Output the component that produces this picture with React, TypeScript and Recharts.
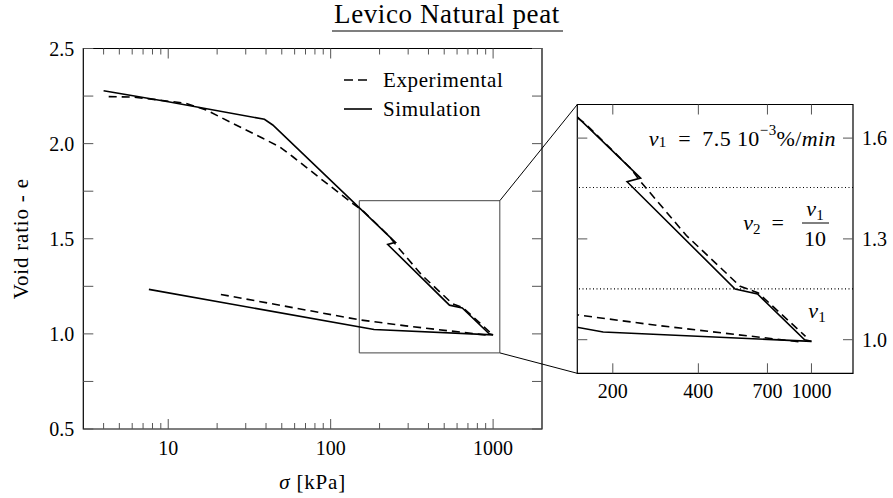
import React from 'react';
import { LineChart, Line, XAxis, YAxis, ReferenceArea, ReferenceLine, Legend } from 'recharts';

// ---------------- data ----------------
const expLoadSigma = [4.3, 6, 8.8, 12.8, 17.1, 24.9, 38.2, 48.3, 58.5, 91.6, 137, 160, 230, 252, 363, 561, 650, 953];
const expLoadE = [2.247, 2.245, 2.229, 2.212, 2.177, 2.107, 2.028, 1.984, 1.931, 1.8, 1.685, 1.643, 1.512, 1.468, 1.31, 1.159, 1.139, 1.01];

const simLoadSigma = [4, 10, 39.1, 44, 250.6, 224.5, 538.6, 646, 946, 1000];
const simLoadE = [2.278, 2.22, 2.128, 2.098, 1.481, 1.47, 1.151, 1.136, 1.0, 0.995];

const expUnloadSigma = [900, 290, 150, 20];
const expUnloadE = [0.994, 1.042, 1.074, 1.211];

const simUnloadSigma = [1000, 185, 7.6];
const simUnloadE = [0.995, 1.023, 1.234];

const mainXTicks = [4, 5, 6, 7, 8, 9, 10, 20, 30, 40, 50, 60, 70, 80, 90, 100, 200, 300, 400, 500, 600, 700, 800, 900, 1000];
const mainXLabels = [10, 100, 1000];
const mainYTicks = [0.5, 0.75, 1.0, 1.25, 1.5, 1.75, 2.0, 2.25, 2.5];
const mainYLabels = [0.5, 1.0, 1.5, 2.0, 2.5];
const mainXDomain = [3, 2000];
const mainYDomain = [0.5, 2.5];

const zoomXRange = [150, 1100];
const zoomYRange = [0.9, 1.7];

const insetXTicks = [200, 400, 700, 1000];
const insetYTicks = [1.0, 1.3, 1.6];
const insetXDomain = [150, 1400];
const insetYDomain = [0.9, 1.7];
const rateChangeLevels = [1.453, 1.151];

const pts = (xs: number[], ys: number[]) => xs.map((x, i) => ({ x, y: ys[i] }));

// ---------------- layout ----------------
const W = 893;
const H = 498;
const FONT = '"Liberation Serif", "Times New Roman", serif';
const MAIN = { left: 83.3, top: 48.5, right: 542, bottom: 429 };
const INSET = { left: 577.3, top: 104.5, right: 853, bottom: 373.3 };
const MAIN_W = MAIN.right - MAIN.left;
const MAIN_H = MAIN.bottom - MAIN.top;
const INSET_W = INSET.right - INSET.left;
const INSET_H = INSET.bottom - INSET.top;
const TICK_COLOR = '#555';
const DASH = '8 5';
const TICK_FS = 20;

const mx = (v: number) =>
  MAIN.left + ((Math.log10(v) - Math.log10(mainXDomain[0])) / (Math.log10(mainXDomain[1]) - Math.log10(mainXDomain[0]))) * MAIN_W;
const my = (v: number) => MAIN.top + ((mainYDomain[1] - v) / (mainYDomain[1] - mainYDomain[0])) * MAIN_H;

// ---------------- ticks ----------------
const MainXTick = (p: any) => {
  const { x, y, payload } = p;
  const v = payload.value;
  const major = mainXLabels.includes(v);
  const len = major ? 10 : 6;
  return (
    <g>
      <line x1={x} x2={x} y1={y} y2={y - len} stroke={TICK_COLOR} strokeWidth={1} />
      <line x1={x} x2={x} y1={y - MAIN_H} y2={y - MAIN_H + len} stroke={TICK_COLOR} strokeWidth={1} />
      {major && (
        <text x={x} y={y + 19} textAnchor="middle" dominantBaseline="central" fontFamily={FONT} fontSize={TICK_FS} fill="#000">
          {v}
        </text>
      )}
    </g>
  );
};

const MainYTick = (p: any) => {
  const { x, y, payload } = p;
  const v = payload.value;
  const major = mainYLabels.some((l) => Math.abs(l - v) < 1e-9);
  return (
    <g>
      <line x1={x} x2={x + 10} y1={y} y2={y} stroke={TICK_COLOR} strokeWidth={1} />
      <line x1={x + MAIN_W} x2={x + MAIN_W - 10} y1={y} y2={y} stroke={TICK_COLOR} strokeWidth={1} />
      {major && (
        <text x={x - 9} y={y} textAnchor="end" dominantBaseline="central" fontFamily={FONT} fontSize={TICK_FS} fill="#000">
          {v.toFixed(1)}
        </text>
      )}
    </g>
  );
};

const InsetXTick = (p: any) => {
  const { x, y, payload } = p;
  return (
    <g>
      <line x1={x} x2={x} y1={y} y2={y - 10} stroke={TICK_COLOR} strokeWidth={1} />
      <line x1={x} x2={x} y1={y - INSET_H} y2={y - INSET_H + 10} stroke={TICK_COLOR} strokeWidth={1} />
      <text x={x} y={y + 18} textAnchor="middle" dominantBaseline="central" fontFamily={FONT} fontSize={TICK_FS} fill="#000">
        {payload.value}
      </text>
    </g>
  );
};

const InsetYTick = (p: any) => {
  const { x, y, payload } = p;
  return (
    <g>
      <line x1={x} x2={x - 10} y1={y} y2={y} stroke={TICK_COLOR} strokeWidth={1} />
      <line x1={x - INSET_W} x2={x - INSET_W + 10} y1={y} y2={y} stroke={TICK_COLOR} strokeWidth={1} />
      <text x={x + 9} y={y} textAnchor="start" dominantBaseline="central" fontFamily={FONT} fontSize={TICK_FS} fill="#000">
        {Number(payload.value).toFixed(1)}
      </text>
    </g>
  );
};

const LegendBox = () => (
  <svg width={200} height={60} style={{ display: 'block' }}>
    <line x1={4} x2={30} y1={15} y2={15} stroke="#000" strokeWidth={1.6} strokeDasharray="9 5" />
    <text x={43} y={15} dominantBaseline="central" fontFamily={FONT} fontSize={21} letterSpacing={0.6} fill="#000">
      Experimental
    </text>
    <line x1={4} x2={32} y1={44} y2={44} stroke="#000" strokeWidth={1.6} />
    <text x={43} y={44} dominantBaseline="central" fontFamily={FONT} fontSize={21} letterSpacing={0.6} fill="#000">
      Simulation
    </text>
  </svg>
);

const lineCommon = { dataKey: 'y', stroke: '#000', strokeWidth: 1.6, dot: false, isAnimationActive: false, type: 'linear' as const };

export default function App() {
  const expLoad = pts(expLoadSigma, expLoadE);
  const simLoad = pts(simLoadSigma, simLoadE);
  const expUnload = pts(expUnloadSigma, expUnloadE);
  const simUnload = pts(simUnloadSigma, simUnloadE);
  const midY = (MAIN.top + MAIN.bottom) / 2;

  return (
    <div style={{ position: 'absolute', left: 0, top: 0, width: W, height: H, background: '#fff', fontFamily: FONT }}>
      {/* main chart */}
      <div style={{ position: 'absolute', left: 0, top: 0 }}>
        <LineChart
          width={W}
          height={H}
          margin={{ top: MAIN.top, left: MAIN.left - 40, right: W - MAIN.right, bottom: H - MAIN.bottom - 30 }}
        >
          <XAxis
            type="number"
            dataKey="x"
            scale="log"
            domain={mainXDomain}
            allowDataOverflow
            ticks={mainXTicks}
            interval={0}
            tickSize={0}
            tickMargin={0}
            tickLine={false}
            axisLine={false}
            height={30}
            tick={(p: any) => <MainXTick {...p} />}
          />
          <YAxis
            type="number"
            domain={mainYDomain}
            allowDataOverflow
            ticks={mainYTicks}
            interval={0}
            tickSize={0}
            tickMargin={0}
            tickLine={false}
            axisLine={false}
            width={40}
            tick={(p: any) => <MainYTick {...p} />}
          />
          <ReferenceArea
            x1={mainXDomain[0]}
            x2={mainXDomain[1]}
            y1={mainYDomain[0]}
            y2={mainYDomain[1]}
            fill="none"
            fillOpacity={0}
            stroke="#000"
            strokeWidth={1.2}
          />
          <ReferenceArea
            x1={zoomXRange[0]}
            x2={zoomXRange[1]}
            y1={zoomYRange[0]}
            y2={zoomYRange[1]}
            fill="none"
            fillOpacity={0}
            stroke="#444"
            strokeWidth={1}
          />
          <Line {...lineCommon} data={expLoad} strokeDasharray={DASH} name="Experimental" />
          <Line {...lineCommon} data={expUnload} strokeDasharray={DASH} name="Experimental unloading" />
          <Line {...lineCommon} data={simLoad} name="Simulation" />
          <Line {...lineCommon} data={simUnload} name="Simulation unloading" />
          <Legend
            layout="vertical"
            align="center"
            verticalAlign="middle"
            content={() => <LegendBox />}
            wrapperStyle={{ left: 340, top: 65, width: 200, height: 60 }}
          />
        </LineChart>
      </div>

      {/* inset chart */}
      <div style={{ position: 'absolute', left: 0, top: 0 }}>
        <LineChart
          width={W}
          height={H}
          margin={{ top: INSET.top, left: INSET.left, right: W - INSET.right - 40, bottom: H - INSET.bottom - 30 }}
        >
          <XAxis
            type="number"
            dataKey="x"
            scale="log"
            domain={insetXDomain}
            allowDataOverflow
            ticks={insetXTicks}
            interval={0}
            tickSize={0}
            tickMargin={0}
            tickLine={false}
            axisLine={false}
            height={30}
            tick={(p: any) => <InsetXTick {...p} />}
          />
          <YAxis
            type="number"
            orientation="right"
            domain={insetYDomain}
            allowDataOverflow
            ticks={insetYTicks}
            interval={0}
            tickSize={0}
            tickMargin={0}
            tickLine={false}
            axisLine={false}
            width={40}
            tick={(p: any) => <InsetYTick {...p} />}
          />
          <ReferenceArea
            x1={insetXDomain[0]}
            x2={insetXDomain[1]}
            y1={insetYDomain[0]}
            y2={insetYDomain[1]}
            fill="none"
            fillOpacity={0}
            stroke="#000"
            strokeWidth={1.2}
          />
          {rateChangeLevels.map((lvl) => (
            <ReferenceLine key={lvl} y={lvl} stroke="#000" strokeWidth={1.2} strokeDasharray="1 2.5" />
          ))}
          <Line {...lineCommon} data={expLoad} strokeDasharray={DASH} />
          <Line {...lineCommon} data={expUnload} strokeDasharray={DASH} />
          <Line {...lineCommon} data={simLoad} />
          <Line {...lineCommon} data={simUnload} />
        </LineChart>
      </div>

      {/* annotations overlay */}
      <svg width={W} height={H} style={{ position: 'absolute', left: 0, top: 0, pointerEvents: 'none' }}>
        <text x={447} y={23} textAnchor="middle" fontFamily={FONT} fontSize={27} letterSpacing={0.6} fill="#000">
          Levico Natural peat
        </text>
        <line x1={332} x2={563} y1={31} y2={31} stroke="#000" strokeWidth={1.2} />

        <text
          x={21}
          y={midY}
          transform={`rotate(-90 21 ${midY})`}
          textAnchor="middle"
          dominantBaseline="central"
          fontFamily={FONT}
          fontSize={21}
          letterSpacing={0.8}
          fill="#000"
        >
          Void ratio - e
        </text>
        <text x={(MAIN.left + MAIN.right) / 2} y={482} textAnchor="middle" dominantBaseline="central" fontFamily={FONT} fontSize={21} letterSpacing={0.8} fill="#000">
          <tspan fontStyle="italic">σ</tspan> [kPa]
        </text>

        {/* connectors from zoom box to inset */}
        <line x1={mx(zoomXRange[1])} y1={my(zoomYRange[1])} x2={INSET.left} y2={INSET.top} stroke="#000" strokeWidth={1} />
        <line x1={mx(zoomXRange[1])} y1={my(zoomYRange[0])} x2={INSET.left} y2={INSET.bottom} stroke="#000" strokeWidth={1} />

        {/* inset annotations */}
        <text x={836} y={138} textAnchor="end" dominantBaseline="central" fontFamily={FONT} fontSize={22} letterSpacing={0.4} fill="#000">
          <tspan fontStyle="italic">v</tspan>
          <tspan fontSize={15} dy={4}>1</tspan>
          <tspan dy={-4}>{'\u2002=\u20027.5\u00A010'}</tspan>
          <tspan fontSize={15} dy={-8}>−3</tspan>
          <tspan dy={8}>%/</tspan>
          <tspan fontStyle="italic">min</tspan>
        </text>

        <text x={795} y={230} textAnchor="end" fontFamily={FONT} fontSize={22} fill="#000">
          <tspan fontStyle="italic">v</tspan>
          <tspan fontSize={15} dy={4}>2</tspan>
          <tspan dy={-4}>{'\u2002=\u2002'}</tspan>
        </text>
        <text x={815} y={216} textAnchor="middle" fontFamily={FONT} fontSize={22} fill="#000">
          <tspan fontStyle="italic">v</tspan>
          <tspan fontSize={15} dy={4}>1</tspan>
        </text>
        <line x1={802} x2={829} y1={223} y2={223} stroke="#000" strokeWidth={1} />
        <text x={815} y={246} textAnchor="middle" fontFamily={FONT} fontSize={22} fill="#000">
          10
        </text>

        <text x={817} y={318} textAnchor="middle" fontFamily={FONT} fontSize={22} fill="#000">
          <tspan fontStyle="italic">v</tspan>
          <tspan fontSize={15} dy={4}>1</tspan>
        </text>
      </svg>
    </div>
  );
}
